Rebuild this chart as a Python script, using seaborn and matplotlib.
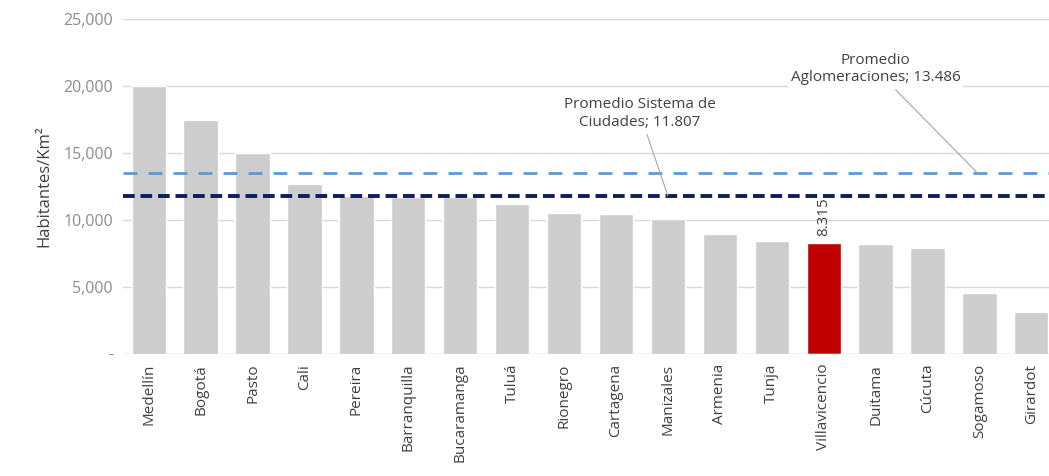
import matplotlib
matplotlib.use("Agg")
import matplotlib.pyplot as plt
import seaborn as sns
import pandas as pd

cities = ["Medellín", "Bogotá", "Pasto", "Cali", "Pereira", "Barranquilla",
          "Bucaramanga", "Tuluá", "Rionegro", "Cartagena", "Manizales", "Armenia",
          "Tunja", "Villavicencio", "Duitama", "Cúcuta", "Sogamoso", "Girardot"]
density = [20000, 17500, 15000, 12700, 11800, 11750, 11700, 11200, 10500, 10450,
           10050, 8950, 8450, 8315, 8250, 7900, 4550, 3150]
highlight = "Villavicencio"
avg_system = 11807
avg_aglom = 13486
yticks = [0, 5000, 10000, 15000, 20000, 25000]
ytick_labels = ["-", "5,000", "10,000", "15,000", "20,000", "25,000"]

sns.set_theme(style="white")
plt.rcParams['font.family'] = ['Open Sans', 'DejaVu Sans']

df = pd.DataFrame({"city": cities, "density": density})
palette = {c: ("#C00000" if c == highlight else "#CDCDCD") for c in cities}

fig = plt.figure(figsize=(10.49, 4.76), dpi=100)
ax = fig.add_axes([0.117, 0.256, 0.883, 0.704])

ax.set_ylim(0, 25000)
for t in yticks[1:]:
    ax.axhline(t, color="#D9D9D9", lw=1, zorder=0)

sns.barplot(data=df, x="city", y="density", hue="city", palette=palette,
            width=0.66, dodge=False, legend=False, ax=ax, zorder=2, saturation=1)

ax.axhline(0, color="#BFBFBF", lw=1, zorder=3)
ax.set_xlim(-0.5, 17.34)

ax.axhline(avg_aglom, color="#5B9BD5", lw=2, ls=(0, (5, 4)), zorder=4)
ax.axhline(avg_system, color="#0A1F5C", lw=2.8, ls=(0, (3, 1.5)), zorder=4)

ax.set_yticks(yticks)
ax.set_yticklabels(ytick_labels, color="#8C8C8C", fontsize=11.5)
ax.set_xticks(range(len(cities)))
ax.set_xticklabels(cities, rotation=90, color="#404040", fontsize=11)
ax.tick_params(axis="both", length=0, pad=7)
ax.set_xlabel("")
ax.set_ylabel("Habitantes/Km²", color="#404040", fontsize=12, labelpad=8)
for s in ax.spines.values():
    s.set_visible(False)

# value label for highlighted bar
hi = cities.index(highlight)
ax.text(hi, density[hi] + 500, "8.315", rotation=90, ha="center", va="bottom",
        color="#404040", fontsize=11, zorder=5)

# annotations
ax.annotate("Promedio Sistema de\nCiudades; 11.807", xy=(10.0, avg_system),
            xytext=(9.46, 17950), ha="center", va="center", fontsize=11,
            color="#404040",
            bbox=dict(boxstyle="square,pad=0.15", fc="white", ec="none"),
            arrowprops=dict(arrowstyle="-", color="#A6A6A6", lw=0.8,
                            shrinkA=2, shrinkB=0), zorder=5)
ax.annotate("Promedio\nAglomeraciones; 13.486", xy=(15.97, avg_aglom),
            xytext=(14.0, 21250), ha="center", va="center", fontsize=11,
            color="#404040",
            bbox=dict(boxstyle="square,pad=0.15", fc="white", ec="none"),
            arrowprops=dict(arrowstyle="-", color="#A6A6A6", lw=0.8,
                            shrinkA=2, shrinkB=0), zorder=5)

fig.savefig("out.png", dpi=100)
